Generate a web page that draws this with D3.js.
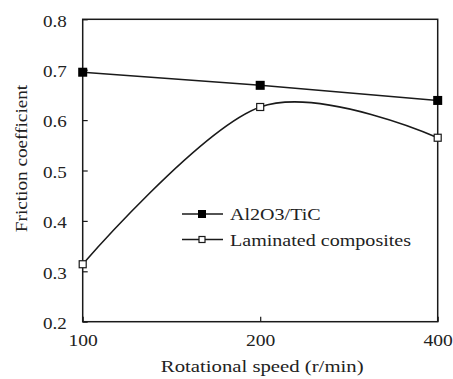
<!DOCTYPE html>
<html><head><meta charset="utf-8">
<script src="https://cdn.jsdelivr.net/npm/d3@7"></script>
<style>html,body{margin:0;padding:0;background:#fff;}svg{display:block;}</style>
</head><body>
<script>
const categories = ["100", "200", "400"];
const seriesNames = ["Al2O3/TiC", "Laminated composites"];
const al2o3TiC = [0.695, 0.669, 0.639];
const laminated = [0.314, 0.626, 0.565];
const yTicks = [0.2, 0.3, 0.4, 0.5, 0.6, 0.7, 0.8];

const W = 453, H = 379;
const m = {left: 82.7, right: 453 - 437.7, top: 19.3, bottom: 379 - 321.7};
const svg = d3.select("body").append("svg").attr("width", W).attr("height", H);
const font = "'Liberation Serif','Times New Roman',serif";
const ink = "#1a1a1a";

const x = d3.scalePoint().domain(categories).range([m.left, W - m.right]);
const y = d3.scaleLinear().domain([0.2, 0.8]).range([H - m.bottom, m.top]);

function stretch(sel, k) {
  sel.each(function() {
    const w = this.getComputedTextLength();
    d3.select(this).attr("textLength", w * k).attr("lengthAdjust", "spacingAndGlyphs");
  });
}

// frame
svg.append("rect").attr("x", m.left).attr("y", m.top)
  .attr("width", W - m.right - m.left).attr("height", H - m.bottom - m.top)
  .attr("fill", "none").attr("stroke", ink).attr("stroke-width", 1.5);

// y axis
const yAx = svg.append("g").attr("transform", `translate(${m.left},0)`)
  .call(d3.axisLeft(y).tickValues(yTicks).tickFormat(d3.format(".1f")).tickSizeInner(-5).tickSizeOuter(0).tickPadding(16));
yAx.select(".domain").remove();
yAx.selectAll("line").attr("stroke", ink).attr("stroke-width", 1.2);
yAx.selectAll("text").attr("font-family", font).attr("font-size", 17).attr("fill", "#222").attr("dy", "0.4em");
stretch(yAx.selectAll("text"), 1.12);

// x axis
const xAx = svg.append("g").attr("transform", `translate(0,${H - m.bottom})`)
  .call(d3.axisBottom(x).tickSizeInner(-5).tickSizeOuter(0).tickPadding(12));
xAx.select(".domain").remove();
xAx.selectAll("line").attr("stroke", ink).attr("stroke-width", 1.2);
xAx.selectAll("text").attr("font-family", font).attr("font-size", 17).attr("fill", "#222");
stretch(xAx.selectAll("text"), 1.15);

// axis titles
const xt = svg.append("text").attr("x", (m.left + W - m.right) / 2 + 2).attr("y", 372)
  .attr("text-anchor", "middle").attr("font-family", font).attr("font-size", 17).attr("fill", "#222")
  .text("Rotational speed (r/min)");
stretch(xt, 1.22);
const yt = svg.append("text").attr("transform", `translate(27,158.5) rotate(-90)`)
  .attr("text-anchor", "middle").attr("font-family", font).attr("font-size", 17).attr("fill", "#222")
  .text("Friction coefficient");
stretch(yt, 1.13);

// lines
const lineStraight = d3.line().x((d, i) => x(categories[i])).y(d => y(d));
const lineSmooth = d3.line().x((d, i) => x(categories[i])).y(d => y(d)).curve(d3.curveCardinal.tension(0));

svg.append("path").datum(al2o3TiC).attr("d", lineStraight)
  .attr("fill", "none").attr("stroke", ink).attr("stroke-width", 1.6);
svg.append("path").datum(laminated).attr("d", lineSmooth)
  .attr("fill", "none").attr("stroke", ink).attr("stroke-width", 1.6);

// markers
svg.selectAll(".m1").data(al2o3TiC).enter().append("rect")
  .attr("x", (d, i) => x(categories[i]) - 4.5).attr("y", d => y(d) - 4.5)
  .attr("width", 9).attr("height", 9).attr("fill", "#000");
svg.selectAll(".m2").data(laminated).enter().append("rect")
  .attr("x", (d, i) => x(categories[i]) - 3.5).attr("y", d => y(d) - 3.5)
  .attr("width", 7).attr("height", 7).attr("fill", "#fff").attr("stroke", ink).attr("stroke-width", 1.2);

// legend
const legY = [214, 239.5];
const leg = svg.append("g");
seriesNames.forEach((name, i) => {
  const g = leg.append("g").attr("transform", `translate(0,${legY[i]})`);
  g.append("line").attr("x1", 182).attr("x2", 223).attr("y1", 0).attr("y2", 0)
    .attr("stroke", ink).attr("stroke-width", 1.6);
  if (i === 0) {
    g.append("rect").attr("x", 198).attr("y", -4).attr("width", 8).attr("height", 8).attr("fill", "#000");
  } else {
    g.append("rect").attr("x", 199).attr("y", -3).attr("width", 6).attr("height", 6)
      .attr("fill", "#fff").attr("stroke", ink).attr("stroke-width", 1.2);
  }
  const t = g.append("text").attr("x", 230).attr("y", 6).attr("font-family", font)
    .attr("font-size", 17).attr("fill", "#222").text(name);
  stretch(t, 1.18);
});
</script>
</body></html>
